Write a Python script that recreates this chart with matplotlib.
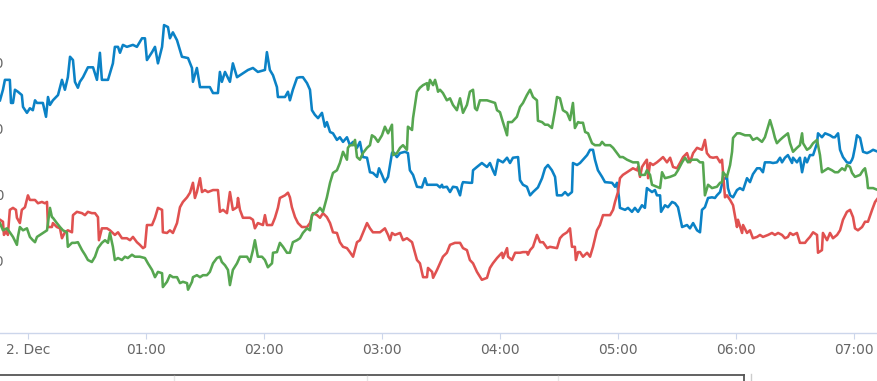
import matplotlib
matplotlib.use("Agg")
import matplotlib.pyplot as plt
from matplotlib.lines import Line2D

# time in minutes after midnight (2. Dec)
blue_t = [-14.2, -12.7, -11.7, -9.2, -8.6, -7.6, -6.6, -5.1, -3.1, -2.5, -0.5, 1.0, 2.5, 3.6, 4.6, 7.6, 9.2, 10.2,
          11.2, 12.7, 15.3, 17.3, 18.8, 20.3, 21.4, 22.9, 23.9, 25.4, 26.4, 28.0, 30.5, 33.1, 35.1, 36.6, 37.6, 40.7,
          41.7, 43.2, 44.2, 45.8, 46.8, 48.3, 50.3, 53.4, 55.4, 58.0, 59.5, 60.5, 63.1, 64.6, 66.1, 68.2, 69.2, 71.2,
          72.2, 73.7, 75.8, 78.3, 81.4, 83.4, 83.9, 85.9, 87.5, 92.5, 94.1, 96.6, 97.6, 98.6, 100.2, 102.7, 104.2,
          106.3, 109.3, 111.9, 114.4, 116.9, 120.5, 121.5, 123.0, 124.6, 126.6, 127.1, 130.7, 132.2, 133.2, 134.7,
          136.8, 138.3, 139.8, 141.9, 143.4, 144.4, 145.9, 147.5, 149.5, 151.0, 152.0, 153.6, 155.1, 157.1, 158.6,
          160.2, 162.2, 163.7, 165.3, 167.3, 168.8, 170.3, 172.4, 173.9, 175.4, 177.5, 178.5, 180.0, 181.5, 183.1,
          185.1, 185.6, 187.6, 189.2, 191.7, 193.2, 194.2, 195.8, 197.8, 200.3, 201.9, 202.9, 208.0, 209.5, 210.5,
          211.0, 213.0, 214.6, 216.1, 218.1, 219.7, 220.7, 221.2, 224.7, 225.8, 226.3, 228.3, 230.8, 233.4, 234.9,
          236.4, 237.5, 239.0, 241.5, 243.6, 245.1, 246.6, 249.2, 250.2, 251.7, 253.7, 255.3, 256.8, 259.3, 261.4,
          262.9, 264.4, 266.4, 268.0, 269.0, 271.5, 273.1, 274.6, 276.6, 277.1, 279.2, 280.7, 282.2, 284.3, 285.8,
          287.3, 288.3, 289.8, 291.9, 293.4, 297.0, 298.5, 299.5, 300.5, 301.0, 303.6, 305.1, 307.1, 308.6, 310.2,
          312.2, 313.7, 314.7, 317.3, 318.8, 319.8, 321.4, 321.9, 323.9, 325.4, 327.5, 329.0, 330.5, 332.6, 335.1,
          336.6, 338.2, 340.2, 341.7, 342.7, 344.2, 345.8, 347.8, 349.3, 350.3, 351.9, 353.4, 355.4, 355.9, 357.0,
          358.5, 360.5, 362.0, 363.6, 365.6, 367.1, 368.6, 370.7, 372.2, 373.7, 374.7, 377.3, 378.8, 380.8, 382.4,
          383.4, 384.9, 386.4, 388.5, 389.0, 391.0, 392.5, 393.6, 395.1, 396.1, 397.6, 399.2, 401.2, 401.7, 403.7,
          405.3, 407.8, 409.3, 410.3, 411.9, 412.9, 414.4, 416.4, 418.0, 419.0, 419.5, 420.5, 421.5, 423.1, 424.6,
          426.6, 428.1, 429.7, 432.2]
blue_v = [34.2, 35.8, 37.3, 37.3, 33.8, 33.8, 35.8, 35.5, 35.0, 33.2, 32.3, 33.0, 32.7, 34.2, 33.8, 33.8, 31.7, 34.7,
          33.5, 34.2, 35.0, 37.3, 35.8, 37.7, 40.8, 40.3, 37.0, 36.1, 37.0, 37.7, 39.2, 39.2, 37.3, 41.4, 37.3, 37.3,
          38.3, 39.8, 42.3, 42.3, 41.4, 42.6, 42.3, 42.6, 42.3, 43.6, 43.6, 40.3, 41.5, 42.3, 39.8, 42.3, 45.6, 45.3,
          43.6, 44.5, 43.3, 40.8, 40.6, 39.1, 37.0, 39.1, 36.2, 36.2, 35.3, 35.3, 38.5, 37.0, 38.5, 37.0, 39.8,
          37.7, 38.3, 38.8, 39.1, 38.5, 38.8, 41.5, 38.8, 38.0, 36.2, 34.7, 34.7, 35.5, 34.2, 35.8,
          37.6, 37.7, 37.7, 36.8, 35.8, 32.7, 32.0, 31.5, 32.3, 30.2, 30.9, 29.4, 29.2, 28.2, 28.6,
          27.9, 28.6, 27.4, 27.9, 27.0, 27.9, 25.6, 25.5, 23.3, 23.2, 22.6, 23.9, 22.9, 21.8, 22.6,
          26.2, 26.4, 25.6, 26.2, 26.4, 26.2, 23.6, 22.9, 21.1, 21.0, 22.4, 21.4, 21.4, 21.0, 21.4,
          21.0, 21.1, 20.3, 21.1, 21.0, 19.8, 21.4, 21.8, 21.7, 21.7, 23.6, 24.1, 24.7, 24.1, 24.7,
          23.6, 22.9, 25.2, 24.8, 25.5, 24.7, 25.5, 25.6, 22.1, 21.4, 21.1, 19.8, 20.3, 21.0, 22.4,
          23.9, 24.4, 23.6, 22.6, 19.8, 19.8, 20.3, 19.8, 20.3, 24.7, 24.4, 24.7, 25.2, 25.9, 26.7,
          26.7, 25.2, 23.6, 22.6, 21.8, 21.7, 21.1, 21.7, 19.5, 17.9, 17.6, 17.9, 17.3, 17.9, 17.3,
          18.3, 17.9, 20.9, 20.3, 20.6, 19.8, 19.8, 17.3, 18.3, 18.0, 18.8, 18.6, 18.0, 15.0, 15.3,
          14.8, 15.6, 14.5, 14.2, 17.6, 18.0, 19.4, 19.5, 19.4, 19.8, 20.3, 22.1, 22.6, 20.9, 19.8,
          19.5, 20.6, 20.9, 20.6, 22.4, 21.8, 23.0, 23.9, 23.9, 23.3, 24.8, 24.8, 24.7, 24.8, 25.5,
          24.8, 25.5, 25.9, 24.7, 25.5, 24.8, 25.5, 23.3, 25.5, 24.8, 25.9, 25.9, 27.7, 29.2, 28.6,
          29.2, 28.9, 28.6, 28.6, 29.2, 26.7, 25.6, 24.8, 24.7, 25.2, 25.6, 27.1, 28.9, 28.5, 26.4,
          26.2, 26.4, 26.7, 26.4]

red_t = [-14.2, -12.7, -12.2, -10.7, -10.2, -9.2, -7.6, -6.1, -5.6, -4.1, -3.1, -1.5, 0.0, 1.0, 2.0, 3.6, 5.1, 7.1,
         8.6, 9.7, 10.2, 12.2, 12.7, 14.7, 16.3, 17.3, 18.8, 20.3, 22.4, 22.9, 24.9, 27.5, 29.0, 30.5, 32.5, 34.1,
         35.6, 36.1, 37.6, 40.2, 41.7, 44.2, 45.8, 47.8, 50.3, 51.9, 53.4, 55.4, 56.9, 58.5, 59.5, 60.5, 63.1, 64.6,
         66.1, 68.2, 68.6, 70.7, 72.2, 73.7, 75.8, 77.3, 78.8, 80.9, 82.4, 83.9, 84.9, 85.9, 87.5, 88.5, 90.0, 91.5,
         94.1, 96.6, 97.6, 99.2, 101.2, 102.7, 104.2, 106.3, 106.8, 107.8, 109.3, 112.9, 114.4, 115.4, 116.9, 119.5,
         120.5, 121.5, 124.1, 125.6, 127.1, 128.1, 130.7, 132.2, 133.2, 134.2, 135.8, 137.3, 139.3, 141.9, 143.4,
         144.9, 147.0, 148.5, 150.0, 152.0, 153.6, 155.1, 157.1, 158.6, 160.2, 162.2, 163.7, 165.3, 167.3, 168.8,
         170.3, 172.4, 173.9, 175.4, 179.0, 181.5, 183.1, 184.1, 185.1, 186.6, 189.2, 190.7, 192.7, 195.3, 197.8,
         199.3, 200.9, 202.9, 203.4, 205.5, 206.0, 208.0, 209.5, 211.0, 213.0, 214.6, 217.1, 219.7, 221.2, 223.2,
         224.7, 226.3, 228.3, 230.8, 233.4, 234.9, 236.4, 238.5, 241.0, 241.5, 243.6, 244.1, 246.1, 247.7, 250.2,
         251.7, 253.7, 254.2, 255.3, 256.8, 258.8, 260.4, 261.9, 264.0, 265.4, 269.0, 270.5, 272.0, 274.1, 275.6,
         276.6, 278.1, 278.6, 279.7, 280.7, 282.2, 284.3, 285.8, 287.3, 289.3, 290.8, 292.4, 296.0, 297.5, 298.5,
         300.0, 301.0, 302.5, 304.6, 306.1, 307.6, 309.7, 310.2, 311.2, 312.2, 313.7, 314.7, 315.3, 316.3, 317.8,
         319.8, 321.4, 322.9, 324.9, 326.5, 328.0, 330.0, 331.5, 333.1, 335.1, 336.6, 338.2, 340.2, 342.7, 344.2,
         345.2, 346.8, 348.3, 350.3, 351.9, 352.9, 354.4, 355.4, 357.0, 358.5, 360.5, 361.0, 363.1, 363.6, 365.6,
         367.1, 368.6, 370.7, 372.2, 373.7, 376.3, 378.3, 379.8, 381.4, 383.4, 384.9, 386.4, 387.5, 389.0, 391.0,
         392.5, 395.1, 396.1, 397.6, 399.2, 401.2, 401.7, 403.7, 404.2, 406.3, 407.8, 409.3, 411.4, 412.9, 414.4,
         416.4, 418.0, 419.5, 420.5, 422.0, 424.1, 425.6, 427.1, 429.2, 430.7, 432.2]
red_v = [16.1, 15.8, 13.8, 14.5, 13.8, 17.6, 17.9, 17.6, 16.4, 15.6, 17.6, 18.0, 19.8, 19.1, 19.1, 19.1, 18.6, 18.8,
         18.6, 18.8, 15.0, 15.0, 15.6, 15.0, 14.8, 13.3, 14.2, 14.5, 14.2, 16.8, 17.3, 17.1, 16.8, 17.3, 17.1, 17.1,
         16.5, 13.0, 14.8, 14.8, 14.5, 13.8, 14.2, 13.3, 13.3, 13.0, 13.5, 12.7, 12.3, 11.8, 12.0, 15.3, 15.3, 16.4,
         17.9, 17.6, 14.2, 14.1, 14.5, 14.1, 15.6, 18.0, 18.8, 19.5, 20.2, 21.7, 19.4, 20.3, 22.4, 20.3, 20.6, 20.3,
         20.6, 20.6, 17.3, 17.6, 17.1, 20.3, 17.6, 18.0, 19.4, 17.6, 16.4, 16.4, 16.1, 14.8, 15.6, 15.3,
         16.8, 15.3, 15.3, 16.4, 17.9, 19.4, 19.8, 20.2, 19.5, 18.0, 16.5, 15.6, 15.0, 15.0, 15.6,
         17.1, 16.8, 16.4, 17.1, 16.5, 15.6, 14.2, 14.1, 12.7, 12.0, 11.8, 11.2, 10.5, 12.7, 13.0,
         14.1, 15.6, 14.8, 14.2, 14.2, 14.8, 13.8, 13.0, 14.1, 13.8, 14.1, 13.0, 13.3, 12.7, 10.0,
         9.5, 7.4, 7.4, 8.8, 8.2, 7.3, 8.5, 9.5, 10.5, 11.1, 12.3, 12.6, 12.6, 11.8, 11.5,
         10.0, 9.5, 8.2, 7.0, 7.3, 8.8, 9.5, 10.3, 11.1, 10.3, 11.8, 10.5, 10.0, 11.1, 11.1,
         11.2, 11.2, 10.8, 11.5, 12.0, 13.8, 12.7, 12.7, 11.8, 12.0, 11.8, 13.3, 13.8, 14.2, 14.8,
         12.0, 12.0, 10.0, 11.2, 11.2, 10.5, 11.1, 10.5, 12.0, 14.5, 15.3, 16.8, 16.8, 17.6, 18.8,
         20.3, 22.4, 22.9, 23.3, 23.6, 23.9, 23.6, 24.1, 22.6, 24.1, 24.8, 25.2, 22.4, 24.7, 24.4,
         24.8, 25.2, 25.6, 24.8, 25.5, 24.1, 23.9, 24.7, 25.6, 26.2, 24.8, 26.2, 27.0, 26.7, 28.2,
         26.2, 25.6, 25.5, 25.6, 24.8, 25.2, 19.5, 19.8, 19.1, 18.3, 15.0, 16.1, 14.1, 15.3, 14.1,
         14.5, 13.3, 13.5, 13.8, 13.5, 13.8, 14.1, 13.8, 14.1, 13.8, 13.3, 13.5, 14.1, 13.8, 14.1,
         12.6, 12.6, 13.0, 13.5, 14.2, 13.8, 11.1, 11.5, 14.1, 13.0, 14.1, 13.3, 13.8, 14.5, 16.1,
         17.3, 17.6, 16.5, 14.8, 14.5, 15.0, 15.8, 15.8, 17.6, 18.8, 19.4]

green_t = [-14.2, -12.7, -10.7, -9.2, -7.6, -5.6, -5.1, -4.1, -2.5, -0.5, 1.0, 2.5, 3.6, 4.6, 6.1, 7.6, 9.7, 11.2,
           12.2, 12.7, 14.7, 16.3, 17.8, 19.8, 20.3, 22.4, 23.9, 25.4, 27.5, 29.0, 30.5, 32.5, 34.1, 35.6, 37.6,
           39.2, 40.7, 41.7, 43.2, 44.2, 45.8, 47.8, 49.3, 50.8, 52.9, 54.4, 56.9, 59.5, 61.0, 63.1, 64.6, 66.1,
           68.2, 68.6, 70.7, 72.2, 73.7, 75.8, 77.3, 78.8, 80.9, 81.4, 83.4, 83.9, 85.9, 87.5, 89.0, 91.0, 92.5,
           94.1, 96.1, 97.6, 98.6, 100.2, 101.7, 102.7, 104.2, 106.3, 107.8, 111.4, 112.9, 114.4, 115.4, 116.9,
           119.0, 120.5, 122.0, 124.1, 124.6, 126.6, 128.1, 129.7, 131.7, 133.2, 134.7, 136.8, 138.3, 139.8, 141.9,
           143.4, 144.4, 147.0, 148.5, 150.0, 152.0, 153.6, 155.1, 157.1, 158.6, 160.2, 162.2, 162.7, 163.7, 165.3,
           166.3, 167.3, 168.8, 170.3, 172.4, 173.9, 174.9, 176.4, 178.0, 180.0, 181.5, 183.1, 185.1, 185.6, 187.6,
           189.2, 190.7, 192.7, 193.2, 195.3, 195.8, 197.8, 199.3, 200.9, 202.9, 203.4, 204.4, 206.0, 207.0, 208.0,
           208.5, 209.5, 211.0, 213.0, 214.6, 216.1, 218.1, 219.7, 221.2, 223.2, 224.7, 226.3, 227.3, 228.3, 229.8,
           233.4, 237.5, 238.5, 240.0, 241.5, 243.6, 244.1, 246.1, 248.6, 250.2, 251.7, 253.7, 255.3, 256.8, 258.8,
           259.3, 261.4, 262.9, 264.4, 266.4, 268.0, 269.0, 270.5, 272.0, 274.1, 275.6, 277.1, 278.1, 279.7, 280.7,
           282.2, 283.3, 284.8, 286.8, 288.3, 290.8, 291.9, 293.4, 296.0, 297.5, 299.5, 301.0, 302.5, 304.6, 307.6,
           310.2, 311.2, 313.7, 314.7, 316.3, 317.3, 319.8, 321.4, 322.4, 323.9, 326.5, 329.0, 330.5, 332.6, 334.1,
           335.6, 337.7, 340.2, 341.7, 343.2, 344.2, 345.8, 347.8, 350.3, 351.9, 352.9, 353.4, 355.4, 357.0, 358.0,
           358.5, 360.5, 362.0, 364.6, 367.1, 368.6, 370.7, 373.2, 374.7, 376.3, 377.3, 378.8, 379.8, 380.8, 382.4,
           383.9, 386.4, 387.5, 389.0, 391.0, 392.5, 393.6, 394.1, 396.1, 397.6, 399.2, 401.2, 402.7, 403.7, 405.3,
           406.8, 408.8, 410.3, 411.9, 413.9, 415.4, 416.4, 418.0, 419.0, 420.5, 423.1, 424.6, 425.6, 426.6, 427.1,
           429.7, 432.2]
green_v = [15.6, 14.5, 14.8, 14.2, 13.5, 12.3, 13.5, 15.0, 14.5, 14.8, 13.5, 13.0, 12.7, 13.5, 13.8, 14.1, 14.5, 17.9,
           16.5, 16.4, 15.6, 15.0, 14.5, 14.2, 12.0, 12.6, 12.6, 12.7, 11.5, 10.8, 10.0, 9.7, 10.5, 11.8, 12.6,
           13.0, 12.6, 14.1, 12.0, 10.0, 10.3, 10.0, 10.5, 10.3, 10.8, 10.5, 10.5, 10.3, 9.5, 8.5, 7.4, 8.2,
           8.0, 5.9, 6.7, 7.7, 7.4, 7.4, 6.5, 6.7, 6.5, 5.5, 6.7, 7.4, 7.7, 7.4, 7.7, 7.7, 8.2,
           9.5, 10.3, 10.5, 9.7, 9.2, 8.5, 6.2, 8.5, 9.5, 10.5, 10.5, 9.7, 11.5, 13.0, 10.5,
           10.5, 10.0, 8.9, 9.5, 11.1, 11.2, 12.6, 12.0, 11.1, 11.1, 12.7, 13.0, 13.3, 14.1, 14.8,
           14.5, 16.8, 17.3, 17.9, 17.3, 19.5, 21.7, 23.2, 23.6, 24.7, 26.4, 25.2, 27.0, 27.4, 27.4,
           28.2, 25.6, 25.2, 26.2, 27.0, 27.4, 28.9, 28.6, 27.9, 28.9, 30.2, 29.2, 30.5, 25.9, 26.2,
           27.0, 27.4, 26.7, 30.2, 29.7, 31.5, 35.5, 36.1, 36.5, 36.8, 35.8, 37.3, 36.5, 37.3, 36.2,
           35.5, 35.8, 35.3, 34.2, 34.5, 33.5, 32.7, 34.5, 32.3, 33.5, 35.5, 35.8, 33.0, 32.7, 34.2,
           34.2, 33.8, 32.7, 32.4, 30.9, 28.9, 30.9, 30.9, 31.7, 33.2, 33.8, 35.0, 35.8, 34.7, 34.2,
           31.1, 30.9, 30.5, 30.5, 30.0, 32.7, 34.7, 34.5, 32.7, 32.3, 31.2, 33.8, 30.0, 30.9, 30.8,
           30.8, 29.4, 29.2, 27.7, 27.4, 27.4, 27.9, 27.4, 27.4, 27.0, 26.2, 25.6, 25.6, 25.2, 24.8,
           24.8, 22.9, 22.9, 23.6, 22.9, 21.4, 21.1, 20.9, 23.3, 22.4, 22.6, 22.9, 23.6, 24.8, 25.5,
           24.8, 25.2, 25.2, 24.8, 24.8, 19.8, 21.4, 20.9, 21.1, 21.7, 21.8, 23.3, 22.6, 24.4, 26.4,
           28.5, 29.2, 29.2, 28.9, 28.9, 28.2, 28.5, 27.9, 28.6, 30.2, 31.2, 29.7, 28.5, 27.7, 28.2,
           28.6, 29.2, 27.7, 26.4, 27.0, 27.4, 29.2, 27.7, 26.7, 27.0, 27.7, 28.2, 25.9, 23.3, 23.6,
           23.9, 23.6, 23.3, 23.3, 23.9, 23.6, 24.4, 24.1, 23.2, 22.6, 22.9, 23.6, 23.9, 22.4, 20.9,
           20.9, 20.6]

hour_ticks = [0, 60, 120, 180, 240, 300, 360, 420]
hour_labels = ["2. Dec", "01:00", "02:00", "03:00", "04:00", "05:00", "06:00", "07:00"]
y_ticks = [10, 20, 30, 40]

fig = plt.figure(figsize=(8.78, 3.81), dpi=100)
ax = fig.add_axes([0, 48 / 381, 1, 333 / 381])

ax.plot(blue_t, blue_v, color="#0b82c6", lw=1.85, solid_joinstyle="round")
ax.plot(red_t, red_v, color="#e05150", lw=1.85, solid_joinstyle="round")
ax.plot(green_t, green_v, color="#56a650", lw=1.85, solid_joinstyle="round")

ax.set_xlim(-14.2, 432.2)
ax.set_ylim(-1.06, 49.4)

for s in ["top", "left", "right"]:
    ax.spines[s].set_visible(False)
ax.spines["bottom"].set_color("#ccd6eb")
ax.spines["bottom"].set_linewidth(1.0)

ax.set_xticks(hour_ticks)
ax.set_xticklabels(hour_labels)
ax.tick_params(axis="x", direction="out", length=4, width=0.8, color="#ccd6eb",
               labelsize=10, labelcolor="#666666", pad=3)
# y labels sit just past the left edge, only their last digit shows
ax.set_yticks(y_ticks)
ax.set_yticklabels([str(v) for v in y_ticks])
ax.tick_params(axis="y", length=0, pad=-3, labelsize=10, labelcolor="#666666")

# navigator frame at the bottom edge
fig.add_artist(Line2D([0, 744 / 878], [1 - 375 / 381] * 2, color="#555555", lw=1.3))
fig.add_artist(Line2D([744 / 878] * 2, [0, 1 - 375 / 381], color="#555555", lw=1.3))
fig.add_artist(Line2D([751 / 878] * 2, [0, 1 - 374 / 381], color="#cccccc", lw=1.0))
for xp in [174, 367, 558]:
    fig.add_artist(Line2D([xp / 878] * 2, [0, 1 - 376 / 381], color="#e6e6e6", lw=1.0))

fig.savefig("out.png", dpi=100)
